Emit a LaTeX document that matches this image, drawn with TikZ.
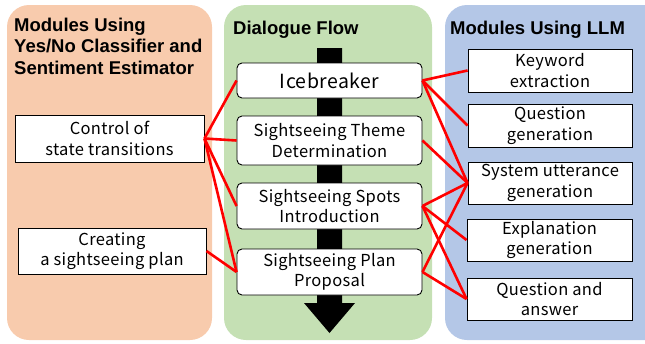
\documentclass[tikz,border=0pt]{standalone}
\usepackage{fontspec}
\setmainfont{Noto Sans CJK JP}[LetterSpace=2]
\newfontfamily\titlefont{Liberation Sans}
\definecolor{panelorange}{RGB}{248,203,173}
\definecolor{panelgreen}{RGB}{197,224,180}
\definecolor{panelblue}{RGB}{180,199,231}
\begin{document}
\begin{tikzpicture}[x=1pt,y=-1pt,
  panel/.style={rounded corners=22pt},
  modbox/.style={draw=black,line width=0.9pt,fill=white,align=center,inner sep=0pt,font=\fontsize{16.5}{20.5}\selectfont},
  flowbox/.style={modbox,rounded corners=5pt},
  title/.style={anchor=west,align=left,inner sep=0pt,font=\titlefont\bfseries\fontsize{18.5}{21.5}\selectfont},
  link/.style={draw=red,line width=2.6pt}]
\useasboundingbox (0,0) rectangle (645,343);
% panels
\fill[panelorange,panel] (7,5) rectangle (212,340);
\fill[panelgreen,panel] (224,5) rectangle (432,340);
\begin{scope}
\clip (0,0) rectangle (645,343);
\fill[panelblue,panel] (445,5) rectangle (668,340);
\end{scope}
% titles
\node[title] (t1) at (14,46) {Modules Using\\Yes/No Classifier and\\Sentiment Estimator};
\node[title] (t2) at (233,30) {Dialogue Flow};
\node[title] (t3) at (450,30) {Modules Using LLM};
% flow arrow
\fill[black] (317,48) -- (342,48) -- (342,303) -- (355,303) -- (329.5,333) -- (304,303) -- (317,303) -- cycle;
% left boxes
\node[modbox,minimum width=189pt,minimum height=47pt] (ctrl) at (109.5,138.5) {Control of\\state transitions};
\node[modbox,minimum width=188pt,minimum height=46pt] (plan) at (112,251) {Creating\\a sightseeing plan};
% flow boxes
\node[flowbox,minimum width=185pt,minimum height=35pt,font=\fontsize{19.5}{22}\selectfont] (ice) at (329.5,80.5) {Icebreaker};
\node[flowbox,minimum width=185pt,minimum height=49pt] (theme) at (329.5,140.5) {Sightseeing Theme\\Determination};
\node[flowbox,minimum width=185pt,minimum height=46pt] (spots) at (329.5,206) {Sightseeing Spots\\Introduction};
\node[flowbox,minimum width=185pt,minimum height=46pt] (prop) at (329.5,272) {Sightseeing Plan\\Proposal};
% right boxes
\node[modbox,minimum width=164pt,minimum height=43pt] (kw) at (550,70.5) {Keyword\\extraction};
\node[modbox,minimum width=164pt,minimum height=43pt] (qg) at (550,125.5) {Question\\generation};
\node[modbox,minimum width=164pt,minimum height=42pt] (su) at (550,183) {System utterance\\generation};
\node[modbox,minimum width=165pt,minimum height=42pt] (ex) at (549.5,240) {Explanation\\generation};
\node[modbox,minimum width=165pt,minimum height=42pt] (qa) at (549.5,299) {Question and\\answer};
% links left
\draw[link] (ctrl.east) -- (ice.west);
\draw[link] (ctrl.east) -- (theme.west);
\draw[link] (ctrl.east) -- (spots.west);
\draw[link] (ctrl.east) -- (prop.west);
\draw[link] (plan.east) -- (prop.west);
% links right
\draw[link] (ice.east) -- (kw.west);
\draw[link] (ice.east) -- (qg.west);
\draw[link] (ice.east) -- (su.west);
\draw[link] (theme.east) -- (su.west);
\draw[link] (spots.east) -- (su.west);
\draw[link] (spots.east) -- (ex.west);
\draw[link] (spots.east) -- (qa.west);
\draw[link] (prop.east) -- (su.west);
\draw[link] (prop.east) -- (qa.west);
\end{tikzpicture}
\end{document}
